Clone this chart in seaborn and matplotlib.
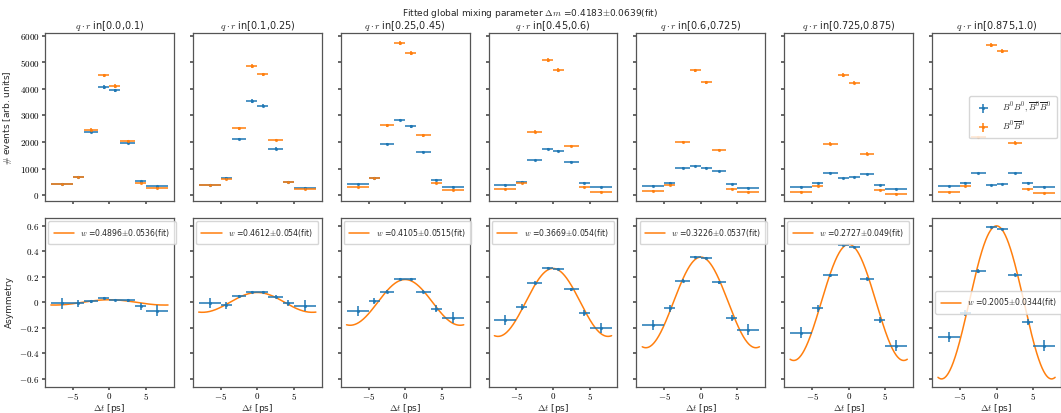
import numpy as np
import pandas as pd
import seaborn as sns
import matplotlib.pyplot as plt
from matplotlib.ticker import FuncFormatter

# delta t binning [ps]
dt_edges = [-8, -5, -3.5, -1.5, 0, 1.5, 3.5, 5, 8]
qr_bins = ['[0.0,0.1)', '[0.1,0.25)', '[0.25,0.45)', '[0.45,0.6)',
           '[0.6,0.725)', '[0.725,0.875)', '[0.875,1.0)']

# same flavour events (B0B0, B0barB0bar)
n_same = [
    [410, 690, 2390, 4070, 3947, 1957, 523, 336],
    [375, 650, 2117, 3548, 3361, 1755, 480, 276],
    [411, 650, 1919, 2827, 2591, 1620, 575, 325],
    [400, 512, 1307, 1733, 1658, 1247, 463, 299],
    [351, 474, 1023, 1083, 1034, 896, 411, 276],
    [325, 448, 848, 635, 672, 784, 373, 239],
    [336, 474, 821, 373, 411, 821, 463, 314],
]
# opposite flavour events (B0B0bar)
n_opp = [
    [420, 680, 2465, 4507, 4108, 2043, 474, 276],
    [375, 597, 2516, 4868, 4544, 2068, 486, 250],
    [299, 650, 2629, 5739, 5355, 2255, 474, 201],
    [224, 463, 2390, 5078, 4705, 1856, 325, 138],
    [164, 388, 2005, 4693, 4245, 1695, 239, 112],
    [138, 362, 1942, 4518, 4234, 1568, 213, 63],
    [127, 336, 2192, 5653, 5441, 1979, 250, 75],
]

asym = [
    [-0.008, -0.008, 0.010, 0.031, 0.018, 0.016, -0.031, -0.065],
    [-0.003, -0.023, 0.047, 0.080, 0.078, 0.044, -0.003, -0.026],
    [-0.067, 0.010, 0.083, 0.181, 0.184, 0.085, -0.049, -0.119],
    [-0.140, -0.034, 0.153, 0.267, 0.262, 0.104, -0.085, -0.200],
    [-0.176, -0.047, 0.171, 0.355, 0.345, 0.158, -0.124, -0.215],
    [-0.236, -0.047, 0.212, 0.453, 0.435, 0.187, -0.137, -0.339],
    [-0.272, -0.085, 0.246, 0.591, 0.573, 0.218, -0.155, -0.339],
]
asym_err = [0.040, 0.025, 0.012, 0.008, 0.008, 0.012, 0.025, 0.042]

w_fit = [0.4896, 0.4612, 0.4105, 0.3669, 0.3226, 0.2727, 0.2005]
w_err = [0.0536, 0.054, 0.0515, 0.054, 0.0537, 0.049, 0.0344]
dm_fit, dm_err = 0.4183, 0.0639

sns.set_theme(style='ticks')
plt.rcParams['font.family'] = ['DejaVu Sans']
plt.rcParams.update({
    'mathtext.fontset': 'cm',
    'font.size': 6.5,
    'axes.edgecolor': '#555555',
    'axes.linewidth': 0.9,
    'xtick.color': '#555555',
    'ytick.color': '#555555',
    'xtick.labelcolor': 'black',
    'ytick.labelcolor': 'black',
    'xtick.labelsize': 6.5,
    'ytick.labelsize': 6.5,
    'xtick.major.size': 2,
    'ytick.major.size': 2,
    'xtick.major.pad': 1,
    'ytick.major.pad': 2,
    'legend.fontsize': 5.6,
})

blue, orange = '#1f77b4', '#ff7f0e'
edges = np.array(dt_edges, dtype=float)
centers = (edges[1:] + edges[:-1]) / 2
half = (edges[1:] - edges[:-1]) / 2

fig, axes = plt.subplots(2, 7, figsize=(10.61, 4.13), dpi=100,
                         sharex=True, sharey='row')
fig.subplots_adjust(left=0.0424, right=1.0, top=0.92, bottom=0.064,
                    wspace=0.147, hspace=0.1)
fmt = FuncFormatter(lambda v, p: f'${v:g}$')

t = np.linspace(-8, 8, 300)
for i in range(7):
    ax = axes[0, i]
    same = np.array(n_same[i], dtype=float)
    opp = np.array(n_opp[i], dtype=float)
    ax.errorbar(centers, same, xerr=half, yerr=np.sqrt(same), fmt='.',
                ms=2.5, color=blue, elinewidth=1.3, alpha=0.85,
                label=r'$B^0B^0,\overline{B}^0\overline{B}^0$')
    ax.errorbar(centers, opp, xerr=half, yerr=np.sqrt(opp), fmt='.',
                ms=2.5, color=orange, elinewidth=1.3, alpha=0.85,
                label=r'$B^0\overline{B}^0$')
    ax.set_title(r'$q\cdot r$ in' + qr_bins[i], fontsize=7, pad=2.5)
    ax.tick_params(labelbottom=False)
    ax.yaxis.set_major_formatter(fmt)

    ax = axes[1, i]
    amp = 1 - 2 * w_fit[i]
    curve = pd.DataFrame({'t': t, 'A': amp * np.cos(dm_fit * t)})
    sns.lineplot(data=curve, x='t', y='A', ax=ax, color=orange, lw=1.1,
                 label=rf'$w$ ={w_fit[i]}$\pm${w_err[i]}(fit)')
    ax.errorbar(centers, asym[i], xerr=half, yerr=asym_err, fmt='.',
                ms=2.5, color=blue, elinewidth=1.3, alpha=0.85)
    ax.set_xlabel(r'$\Delta t$ [ps]', fontsize=6.5, labelpad=0)
    ax.set_ylabel('')
    ax.set_xticks([-5, 0, 5])
    ax.xaxis.set_major_formatter(fmt)
    ax.yaxis.set_major_formatter(fmt)
    ax.legend(loc='center left' if i == 6 else 'upper left',
              handlelength=2.6, borderpad=0.7, borderaxespad=0.4)

axes[0, 0].set_ylabel(r'$\#$ events [arb. units]', fontsize=6.5)
axes[1, 0].set_ylabel('Asymmetry', fontsize=6.5)
axes[0, 0].set_yticks([0, 1000, 2000, 3000, 4000, 5000, 6000])
axes[1, 0].set_yticks([-0.6, -0.4, -0.2, 0.0, 0.2, 0.4, 0.6])
axes[0, 6].legend(loc='center right', fontsize=6.3, borderpad=0.6,
                  handletextpad=1.2)

fig.suptitle(rf'Fitted global mixing parameter $\Delta m$ ={dm_fit}$\pm${dm_err}(fit)',
             fontsize=6.5, y=0.982)
fig.savefig('out.png', dpi=100)
